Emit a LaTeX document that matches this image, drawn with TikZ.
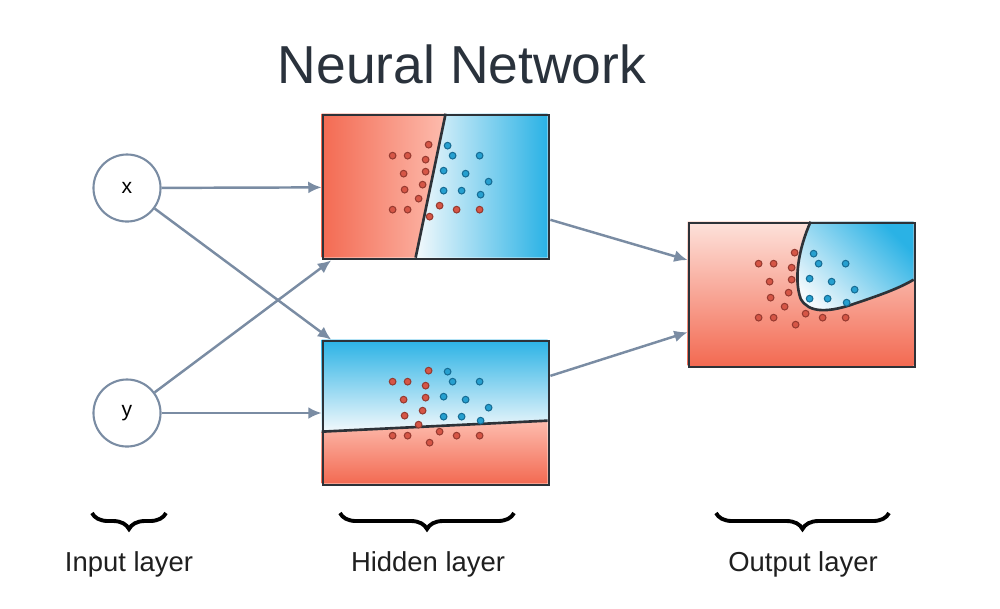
\documentclass[tikz,border=0pt]{standalone}
\usepackage{amsmath}
\usepackage{xcolor}
\usepackage{fontspec}
\setmainfont{Liberation Sans}
\usepackage{tikz}
\usetikzlibrary{calc,arrows.meta,backgrounds,decorations.pathreplacing}

\definecolor{linkgray}{RGB}{122,140,163}
\definecolor{frame}{RGB}{45,50,56}
\definecolor{redfull}{RGB}{243,106,82}
\definecolor{redpale}{RGB}{253,188,174}
\definecolor{redlight}{RGB}{253,226,219}
\definecolor{bluefull}{RGB}{42,178,229}
\definecolor{bluepale}{RGB}{243,249,252}
\definecolor{dotred}{RGB}{214,86,70}
\definecolor{dotredline}{RGB}{150,58,48}
\definecolor{dotblue}{RGB}{38,160,208}
\definecolor{dotblueline}{RGB}{22,108,148}
\definecolor{titleink}{RGB}{42,50,60}

\begin{document}
\begin{tikzpicture}[x=0.01cm,y=-0.01cm,
		neuron/.style={circle,draw=linkgray,line width=0.6pt,minimum size=0.67cm,inner sep=0pt,font=\fontsize{6}{7}\selectfont},
		plane/.style={rectangle,draw=frame,line width=0.75pt,minimum width=2.26cm,minimum height=1.44cm,inner sep=0pt},
		link/.style={draw=linkgray,line width=0.7pt,-{Latex[length=3.8pt,width=3.4pt]}},
		split/.style={draw=frame,line width=0.75pt},
		layerbrace/.style={decorate,decoration={brace,mirror,amplitude=0.16cm},line width=1.1pt},
		layername/.style={anchor=base,font=\fontsize{7.8}{9}\selectfont,text=black!88},
		reddot/.style={fill=dotred,draw=dotredline,line width=0.3pt},
		bluedot/.style={fill=dotblue,draw=dotblueline,line width=0.3pt}]
			\useasboundingbox (0,0) rectangle (1000,608);

			\node[anchor=base,font=\fontsize{15.2}{18}\selectfont,text=titleink] (title) at (462,83) {Neural Network};

			\node[neuron] (xin) at (127,188) {x};
			\node[neuron] (yin) at (127,413) {y};

			\node[plane] (box1) at (436,187) {};
			\node[plane] (box2) at (436,413) {};
			\node[plane] (box3) at (802,295) {};

			\begin{scope}[on background layer]
				\begin{scope}[shift={(box1.north west)}]
					\shade[left color=redfull,right color=redpale] (0,0) -- (124,0) -- (94,144) -- (0,144) -- cycle;
					\shade[left color=bluepale,right color=bluefull] (124,0) -- (226,0) -- (226,144) -- (94,144) -- cycle;
				\end{scope}
				\begin{scope}[shift={(box2.north west)}]
					\shade[top color=bluefull,bottom color=bluepale] (0,0) -- (226,0) -- (226,81) -- (0,92) -- cycle;
					\shade[top color=redpale,bottom color=redfull] (0,92) -- (226,81) -- (226,144) -- (0,144) -- cycle;
				\end{scope}
				\begin{scope}[shift={(box3.north west)}]
					\shade[top color=redlight,bottom color=redfull] (0,0) rectangle (226,144);
					\shade[top color=bluefull,bottom color=bluepale,shading angle=-45] (123,0) .. controls (111,27) and (106,57) .. (113,77) .. controls (121,92) and (141,90) .. (161,84) .. controls (191,74) and (211,67) .. (226,58) -- (226,0) -- cycle;
				\end{scope}
			\end{scope}

			\begin{scope}[shift={(box1.north west)}]
				\draw[split] (124,0) -- (94,144);
			\end{scope}
			\begin{scope}[shift={(box2.north west)}]
				\draw[split] (0,92) -- (226,81);
			\end{scope}
			\begin{scope}[shift={(box3.north west)}]
				\draw[split] (123,0) .. controls (111,27) and (106,57) .. (113,77) .. controls (121,92) and (141,90) .. (161,84) .. controls (191,74) and (211,67) .. (226,58);
			\end{scope}

			\foreach \plane in {box1,box2,box3}{
				\begin{scope}[shift={(\plane.north west)}]
					\foreach \dx/\dy in {107/31,71/42,86/42,104/46,82/60,104/58,83/76,101/71,97/85,71/96,86/96,118/92,135/96,158/96,108/103}
						\path[reddot] (\dx,\dy) circle[radius=0.95pt];
					\foreach \dx/\dy in {126/32,131/42,158/42,122/57,144/60,167/68,122/77,140/77,159/81}
						\path[bluedot] (\dx,\dy) circle[radius=0.95pt];
				\end{scope}
			}

			\draw[link] (xin) -- (box1);
			\draw[link] (xin) -- (box2.145);
			\draw[link] (yin) -- (box1.-145);
			\draw[link] (yin) -- (box2);
			\draw[link] (box1.-16.6) -- (box3.163.5);
			\draw[link] (box2.18.5) -- (box3.-162.2);

			\draw[layerbrace] (92,513) -- (166,513);
			\draw[layerbrace] (340,513) -- (514,513);
			\draw[layerbrace] (716,513) -- (889,513);

			\node[layername] (inname) at (129,571) {Input layer};
			\node[layername] (hidname) at (428,571) {Hidden layer};
			\node[layername] (outname) at (803,571) {Output layer};
		\end{tikzpicture}
\end{document}
